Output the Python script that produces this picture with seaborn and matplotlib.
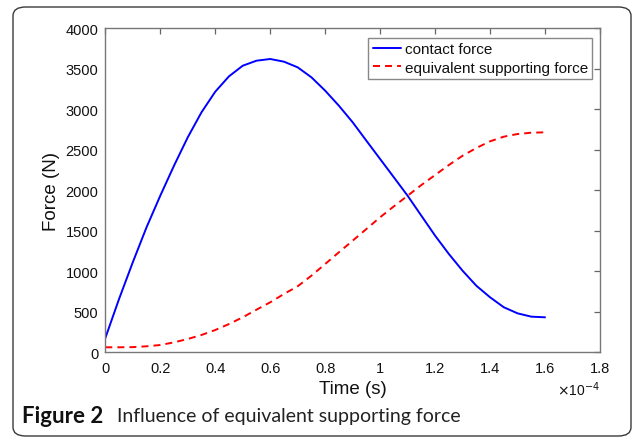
import numpy as np
import pandas as pd
import matplotlib
matplotlib.use("Agg")
import matplotlib.pyplot as plt
import seaborn as sns
from matplotlib.patches import FancyBboxPatch
from matplotlib.ticker import FuncFormatter

# ---- data (time in units of 1e-4 s) ----
time_e4 = [0.00, 0.05, 0.10, 0.15, 0.20, 0.25, 0.30, 0.35, 0.40, 0.45, 0.50,
           0.55, 0.60, 0.65, 0.70, 0.75, 0.80, 0.85, 0.90, 0.95, 1.00, 1.05,
           1.10, 1.15, 1.20, 1.25, 1.30, 1.35, 1.40, 1.45, 1.50, 1.55, 1.60]
contact_force = [175, 658, 1111, 1543, 1933, 2304, 2654, 2963, 3217, 3407, 3538,
                 3600, 3621, 3588, 3518, 3395, 3230, 3044, 2840, 2612, 2386, 2160,
                 1933, 1686, 1440, 1214, 1007, 822, 679, 556, 481, 440, 432]
support_force = [62, 62, 64, 74, 90, 123, 164, 214, 275, 349, 432,
                 526, 617, 720, 815, 946, 1090, 1235, 1378, 1522, 1667, 1802,
                 1933, 2065, 2189, 2312, 2427, 2522, 2605, 2662, 2695, 2711, 2716]
series_names = ["contact force", "equivalent supporting force"]
x_ticks_e4 = [0, 0.2, 0.4, 0.6, 0.8, 1.0, 1.2, 1.4, 1.6, 1.8]
y_ticks = [0, 500, 1000, 1500, 2000, 2500, 3000, 3500, 4000]

time_s = np.array(time_e4) * 1e-4
df = pd.DataFrame({
    "Time": np.concatenate([time_s, time_s]),
    "Force": np.concatenate([contact_force, support_force]),
    "Series": [series_names[0]] * len(time_s) + [series_names[1]] * len(time_s),
})

sns.set_theme(style="white")
plt.rcParams["font.family"] = ["Liberation Sans", "DejaVu Sans"]

W, H = 635, 439
fig = plt.figure(figsize=(W / 100, H / 100), dpi=100)
fig.patch.set_facecolor("white")

# rounded frame around the figure
frame = FancyBboxPatch((13 / W, 2 / H), (631 - 13) / W, (431 - 2) / H,
                       boxstyle="round,pad=0,rounding_size=0.02",
                       transform=fig.transFigure, fill=False,
                       edgecolor="#3a3a3a", linewidth=1.0, zorder=0)
fig.patches.append(frame)

ax = fig.add_axes([105.3 / W, 1 - 353.3 / H, (600 - 105.3) / W, (353.3 - 29.3) / H])

sns.lineplot(data=df, x="Time", y="Force", hue="Series", style="Series",
             palette={series_names[0]: "#0000FF", series_names[1]: "#FF0000"},
             dashes={series_names[0]: "", series_names[1]: (3.6, 2.6)},
             linewidth=1.4, ax=ax, legend=True, sort=False)

ax.set_xlim(0, 1.8e-4)
ax.set_ylim(0, 4000)
ax.set_xticks(np.array(x_ticks_e4) * 1e-4)
ax.set_yticks(y_ticks)
ax.xaxis.set_major_formatter(FuncFormatter(lambda v, p: f"{v * 1e4:g}"))
ax.yaxis.set_major_formatter(FuncFormatter(lambda v, p: f"{v:g}"))

for s in ax.spines.values():
    s.set_visible(True)
    s.set_color("#777777")
    s.set_linewidth(1.0)
ax.tick_params(direction="in", length=4, width=0.9, color="#666666",
               top=True, right=True, labelsize=10.5, labelcolor="#111111")
ax.tick_params(axis="x", pad=6)
ax.tick_params(axis="y", pad=5)
ax.grid(False)

ax.set_xlabel("Time (s)", fontsize=13.5, color="#111111", labelpad=4)
ax.set_ylabel("Force (N)", fontsize=13.5, color="#111111", labelpad=4)

ax.text(1.0, -0.085, r"$\times$10$^{-4}$", transform=ax.transAxes,
        ha="right", va="top", fontsize=10, color="#111111")

leg = ax.legend(loc="upper right", bbox_to_anchor=(0.9844, 0.970),
                fontsize=11, frameon=True, fancybox=False, framealpha=1,
                edgecolor="#888888", handlelength=1.85, handletextpad=0.25,
                labelspacing=0.28, borderpad=0.28, borderaxespad=0)
leg.get_frame().set_linewidth(1.0)
for t in leg.get_texts():
    t.set_color("#111111")

# caption
cap_y = 1 - 417 / H
fig.text(22 / W, cap_y, "Figure 2", fontsize=16, fontweight="bold",
         family=["Lato", "DejaVu Sans"], color="#111111", va="center", ha="left")
fig.text(117 / W, cap_y, "Influence of equivalent supporting force", fontsize=14,
         family=["Lato", "DejaVu Sans"], color="#222222", va="center", ha="left")

fig.savefig("out.png", dpi=100, facecolor="white")
